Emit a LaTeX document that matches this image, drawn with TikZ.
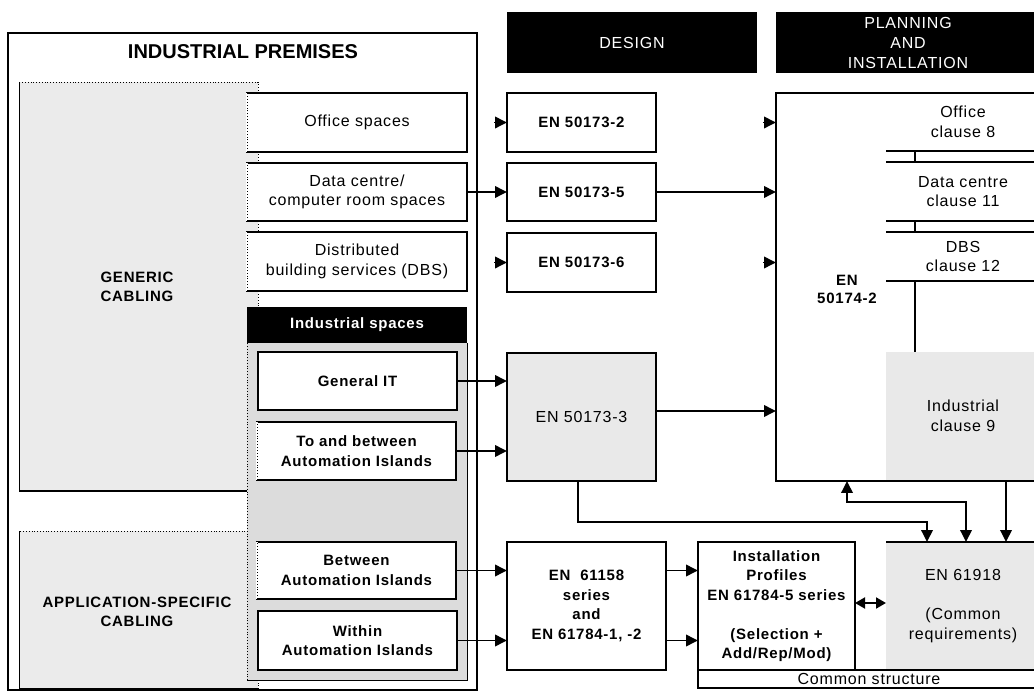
\documentclass[tikz,border=0pt]{standalone}
\usepackage{fontspec}
\newfontfamily\rf[LetterSpace=5]{Liberation Sans}
\newfontfamily\tf{Liberation Sans}
\usetikzlibrary{arrows.meta,calc}
\definecolor{gengray}{HTML}{EBEBEB}
\definecolor{pangray}{HTML}{DCDCDC}
\definecolor{boxgray}{HTML}{E9E9E9}
\newcommand\mkbox[7]{\pgfmathsetmacro\mkw{#5-#3}\pgfmathsetmacro\mkh{#6-#4}%
  \node[#1,anchor=north west,minimum width=\mkw pt,minimum height=\mkh pt,inner sep=0pt,outer sep=0pt] (#2) at (#3,#4) {#7};}
\newcommand\dleft[1]{\draw[white,line width=1.6pt] (#1.south west) -- (#1.north west);
  \draw[dotted,line width=0.9pt] (#1.south west) -- (#1.north west);}
\begin{document}
\begin{tikzpicture}[x=1pt,y=-1pt,
  rt/.style={font=\rf\fontsize{16}{19.5}\selectfont,align=center},
  bt/.style={font=\rf\bfseries\fontsize{15}{19.5}\selectfont,align=center},
  wbox/.style={fill=white,draw=black,line width=1.3pt},
  enbox/.style={fill=white,draw=black,line width=2.2pt},
  arr/.style={line width=1.9pt,-{Triangle[length=12pt,width=11.5pt]}},
  darr/.style={line width=1.9pt,{Triangle[length=12pt,width=11.5pt]}-{Triangle[length=12pt,width=11.5pt]}},
  sarr/.style={line width=1.9pt,{Triangle[length=10pt,width=11pt]}-{Triangle[length=10pt,width=11pt]}}]
\useasboundingbox (0,0) rectangle (1034,692);
% ---------- industrial premises ----------
\mkbox{draw,line width=2pt}{prem}{8}{33}{477}{690}{}
\node[font=\tf\bfseries\fontsize{20}{24}\selectfont] (premt) at (243,52) {INDUSTRIAL PREMISES};
\mkbox{fill=gengray}{gen}{19}{82}{258}{491}{}
\draw[dotted,line width=0.8pt] (gen.south east) -- (gen.north east) -- (gen.north west);
\draw[line width=1pt] (gen.north west) -- (gen.south west);
\draw[line width=2pt] (gen.south west) -- (gen.south east);
\node[bt] (gent) at (137,287) {GENERIC\\CABLING};
\mkbox{fill=gengray}{app}{19}{531}{258}{689}{}
\draw[dotted,line width=0.8pt] (app.south east) -- (app.north east) -- (app.north west);
\draw[line width=1pt] (app.north west) -- (app.south west);
\draw[line width=2pt] (app.south west) -- (app.south east);
\node[bt] (appt) at (137,612) {APPLICATION-SPECIFIC\\CABLING};
% industrial spaces panel
\mkbox{fill=pangray}{isp}{247}{343}{467}{680}{}
\draw[line width=1pt] (isp.north east) -- (isp.south east) -- (isp.south west);
\draw[dotted,line width=0.8pt] (isp.south west) -- (isp.north west);
\mkbox{fill=black,text=white,bt}{ish}{247}{307}{467}{343}{Industrial spaces}
% white boxes
\mkbox{wbox,rt}{off}{247}{93}{467}{152}{Office spaces}
\dleft{off}
\mkbox{wbox,rt}{dc}{247}{163}{467}{221}{Data centre/\\computer room spaces}
\dleft{dc}
\mkbox{wbox,rt}{dbs}{247}{232}{467}{291}{Distributed\\building services (DBS)}
\dleft{dbs}
\mkbox{wbox,bt}{git}{258}{352}{457}{410}{General IT}
\mkbox{wbox,bt}{tab}{257}{422}{456}{480}{To and between\\Automation Islands}
\dleft{tab}
\mkbox{wbox,bt}{bai}{257}{542}{456}{599}{Between\\Automation Islands}
\dleft{bai}
\mkbox{wbox,bt}{wai}{258}{611}{457}{670}{Within\\Automation Islands}
% ---------- design ----------
\mkbox{fill=black,text=white,rt}{des}{507}{12}{757}{73}{DESIGN}
\mkbox{enbox,bt}{en2}{507}{93}{656}{152}{EN 50173-2}
\mkbox{enbox,bt}{en5}{507}{163}{656}{221}{EN 50173-5}
\mkbox{enbox,bt}{en6}{507}{233}{656}{292}{EN 50173-6}
\mkbox{fill=boxgray,draw,line width=1.3pt,rt}{en3}{507}{353}{656}{481}{EN 50173-3}
\mkbox{enbox,bt}{f158}{507}{542}{666}{670}{EN\ \ 61158\\series\\and\\EN 61784-1, -2}
\mkbox{enbox,bt}{ip}{698}{542}{855}{670}{Installation\\Profiles\\EN 61784-5 series\\[19.5pt](Selection +\\Add/Rep/Mod)}
% ---------- planning and installation ----------
\mkbox{fill=black,text=white,rt,font=\rf\fontsize{16}{20}\selectfont}{pla}{776}{12}{1040}{73}{PLANNING\\AND\\INSTALLATION}
\mkbox{fill=white,draw,line width=2pt}{p174}{776}{93}{1040}{481}{}
\node[bt,font=\rf\bfseries\fontsize{15}{18}\selectfont] (p174t) at (847,289) {EN\\50174-2};
\mkbox{rt}{oc}{886}{93}{1040}{151}{Office\\clause 8}
\mkbox{rt}{dcc}{886}{162}{1040}{221}{Data centre\\clause 11}
\mkbox{rt}{dbsc}{886}{232}{1040}{281}{DBS\\clause 12}
\mkbox{fill=boxgray,rt}{ind9}{886}{352}{1040}{480}{Industrial\\clause 9}
\draw[line width=1.8pt] (oc.south west) -- (oc.south east);
\draw[line width=1.8pt] (dcc.north west) -- (dcc.north east);
\draw[line width=1.8pt] ([xshift=29pt]oc.south west) -- ([xshift=29pt]dcc.north west);
\draw[line width=1.8pt] (dcc.south west) -- (dcc.south east);
\draw[line width=1.8pt] (dbsc.north west) -- (dbsc.north east);
\draw[line width=1.8pt] ([xshift=29pt]dcc.south west) -- ([xshift=29pt]dbsc.north west);
\draw[line width=1.8pt] (dbsc.south west) -- (dbsc.south east);
\draw[line width=1.8pt] ([xshift=29pt]dbsc.south west) -- ([xshift=29pt]ind9.north west);
\draw[line width=2pt] (p174.south west) -- (p174.south east);
\mkbox{fill=boxgray,rt}{f918}{886}{542}{1040}{670}{EN 61918\\[19.5pt](Common\\requirements)}
\draw[line width=2pt] (f918.north west) -- (f918.north east);
\mkbox{fill=white,draw,line width=1.3pt,rt}{cs}{698}{670}{1040}{688}{Common structure}
\draw[line width=2pt] (ip.south west) -- (f918.south east);
% ---------- connectors ----------
\draw[arr] ([xshift=-13pt]en2.west) -- (en2.west);
\draw[arr] (dc.east) -- (en5.west);
\draw[arr] ([xshift=-13pt]en6.west) -- (en6.west);
\draw[arr] ([xshift=-13pt]en2.west -| p174.west) -- (en2.west -| p174.west);
\draw[arr] (en5.east) -- (en5.east -| p174.west);
\draw[arr] ([xshift=-13pt]en6.west -| p174.west) -- (en6.west -| p174.west);
\draw[arr] (git.east) -- (git.east -| en3.west);
\draw[arr] (tab.east) -- (tab.east -| en3.west);
\draw[arr] ([yshift=6pt]en3.east) -- ([yshift=6pt]en3.east -| p174.west);
\draw[arr] (bai.east) -- (bai.east -| f158.west);
\draw[arr] (wai.east) -- (wai.east -| f158.west);
\draw[arr] (bai.east -| f158.east) -- (bai.east -| ip.west);
\draw[arr] (wai.east -| f158.east) -- (wai.east -| ip.west);
\draw[sarr] ([yshift=3pt]ip.east) -- ([yshift=3pt]ip.east -| f918.west);
\coordinate (j1) at (927,522);
\coordinate (j2) at (966,502);
\coordinate (j3) at (847,502);
\coordinate (j4) at (1006,481);
\draw[arr] ([xshift=-3.5pt]en3.south) |- (j1) -- (j1 |- f918.north);
\draw[darr] (j3 |- p174.south) -- (j3) -- (j2) -- (j2 |- f918.north);
\draw[arr] (j4) -- (j4 |- f918.north);
\end{tikzpicture}
\end{document}
